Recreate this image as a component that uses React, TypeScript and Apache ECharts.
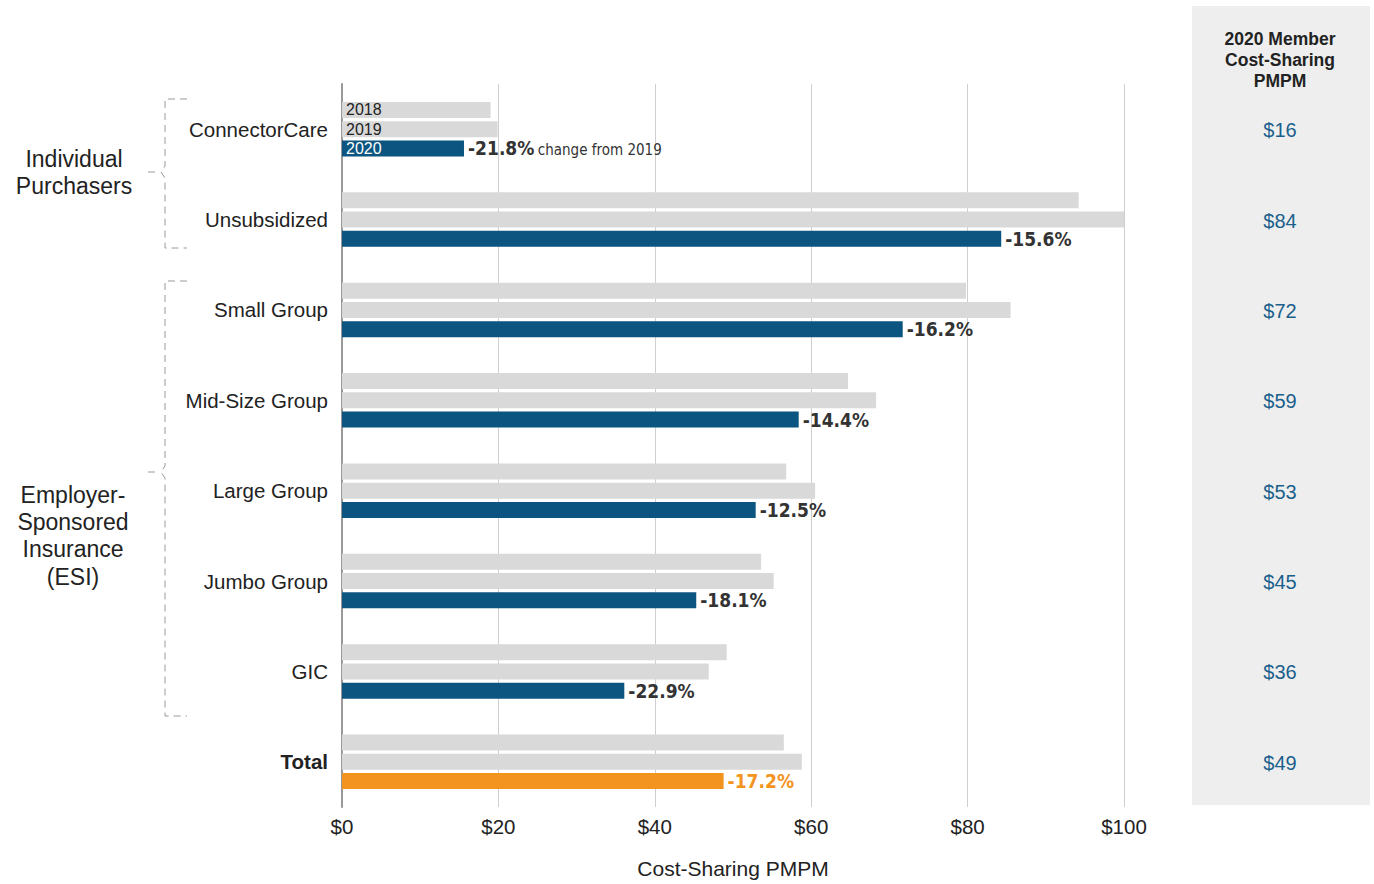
import React, { useEffect, useRef } from "react";
import * as echarts from "echarts";

const categories = ["ConnectorCare", "Unsubsidized", "Small Group", "Mid-Size Group", "Large Group", "Jumbo Group", "GIC", "Total"];
const v2018 = [19.0, 94.2, 79.8, 64.7, 56.8, 53.6, 49.2, 56.5];
const v2019 = [19.9, 100.0, 85.5, 68.3, 60.5, 55.2, 46.9, 58.8];
const v2020 = [15.6, 84.3, 71.7, 58.4, 52.9, 45.3, 36.1, 48.8];
const changePct = ["-21.8%", "-15.6%", "-16.2%", "-14.4%", "-12.5%", "-18.1%", "-22.9%", "-17.2%"];
const memberPMPM = ["$16", "$84", "$72", "$59", "$53", "$45", "$36", "$49"];
const xTicks = [0, 20, 40, 60, 80, 100];

const FONT = "'Liberation Sans', Arial, Helvetica, sans-serif";
const NARROW = "'Liberation Sans Narrow', 'DejaVu Sans Condensed', 'Liberation Sans', sans-serif";
const GREY = "#d9d9d9";
const BLUE = "#0b5580";
const ORANGE = "#f39320";
const TEXT = "#222222";

export default function App() {
  const ref = useRef<HTMLDivElement>(null);
  useEffect(() => {
    if (!ref.current) return;
    const chart = echarts.init(ref.current, null, { renderer: "svg" });
    const last = categories.length - 1;

    const yearLabel = (txt: string, color: string) => ({
      show: true,
      position: "insideLeft",
      distance: 4,
      formatter: txt,
      color,
      fontSize: 16,
      fontFamily: FONT,
    });

    const barCommon = { type: "bar", barWidth: 16, barGap: "20%" };

    const option: any = {
      animation: false,
      grid: { left: 342, width: 782, top: 84, height: 725, containLabel: false },
      xAxis: {
        type: "value",
        min: xTicks[0],
        max: xTicks[xTicks.length - 1],
        interval: 20,
        axisLine: { show: false },
        axisTick: { show: false },
        splitLine: { show: true, lineStyle: { color: "#cfcfcf", width: 1 } },
        axisLabel: {
          formatter: (v: number) => "$" + v,
          fontSize: 20.5,
          color: TEXT,
          fontFamily: FONT,
          margin: 9,
        },
        name: "Cost-Sharing PMPM",
        nameLocation: "middle",
        nameGap: 51,
        nameTextStyle: { fontSize: 21, color: TEXT, fontFamily: FONT },
      },
      yAxis: {
        type: "category",
        inverse: true,
        data: categories,
        axisLine: { show: true, lineStyle: { color: "#999999", width: 2 } },
        axisTick: { show: false },
        axisLabel: {
          fontSize: 20.5,
          color: TEXT,
          fontFamily: FONT,
          margin: 14,
          formatter: (v: string) => (v === "Total" ? "{b|" + v + "}" : v),
          rich: { b: { fontWeight: "bold", fontSize: 20.5, color: TEXT, fontFamily: FONT } },
        },
      },
      series: [
        {
          ...barCommon,
          name: "2018",
          itemStyle: { color: GREY },
          data: v2018.map((v, i) => (i === 0 ? { value: v, label: yearLabel("2018", TEXT) } : v)),
        },
        {
          ...barCommon,
          name: "2019",
          itemStyle: { color: GREY },
          data: v2019.map((v, i) => (i === 0 ? { value: v, label: yearLabel("2019", TEXT) } : v)),
        },
        {
          ...barCommon,
          name: "2020",
          stack: "y2020",
          itemStyle: { color: BLUE },
          data: v2020.map((v, i) => {
            if (i === 0) return { value: v, label: yearLabel("2020", "#ffffff") };
            if (i === last) return { value: v, itemStyle: { color: ORANGE } };
            return v;
          }),
        },
        {
          ...barCommon,
          name: "change",
          stack: "y2020",
          itemStyle: { color: "rgba(0,0,0,0)" },
          label: {
            show: true,
            position: "right",
            distance: 4,
            fontFamily: NARROW,
            formatter: (p: any) => {
              const i = p.dataIndex;
              if (i === 0) return "{b|" + changePct[i] + "} {n|change from 2019}";
              if (i === last) return "{o|" + changePct[i] + "}";
              return "{b|" + changePct[i] + "}";
            },
            rich: {
              b: { fontSize: 19, fontWeight: "bold", color: "#333333", fontFamily: NARROW },
              o: { fontSize: 19, fontWeight: "bold", color: ORANGE, fontFamily: NARROW },
              n: { fontSize: 15, color: "#333333", fontFamily: NARROW, padding: [3, 0, 0, 0] },
            },
          },
          data: v2020.map(() => 0),
        },
        {
          name: "member",
          type: "custom",
          data: memberPMPM.map((_, i) => [0, i]),
          renderItem: (params: any, api: any) => {
            const i = params.dataIndex;
            const pt = api.coord([0, i]);
            return {
              type: "text",
              style: {
                text: memberPMPM[i],
                x: 1280,
                y: pt[1] + 1,
                fill: "#1b5f8c",
                fontSize: 20,
                fontFamily: FONT,
                align: "center",
                verticalAlign: "middle",
              },
            };
          },
        },
      ],
      graphic: [
        { type: "rect", z: -10, shape: { x: 1192, y: 6, width: 178, height: 799 }, style: { fill: "#eeeeee" } },
        {
          type: "text",
          x: 1280,
          y: 28,
          style: {
            text: "2020 Member\nCost-Sharing\nPMPM",
            fill: TEXT,
            font: "bold 17.5px " + FONT,
            lineHeight: 21,
            align: "center",
            verticalAlign: "top",
          },
        },
        {
          type: "text",
          x: 74,
          y: 145,
          style: {
            text: "Individual\nPurchasers",
            fill: TEXT,
            font: "23px " + FONT,
            lineHeight: 27,
            align: "center",
            verticalAlign: "top",
          },
        },
        {
          type: "text",
          x: 73,
          y: 481,
          style: {
            text: "Employer-\nSponsored\nInsurance\n(ESI)",
            fill: TEXT,
            font: "23px " + FONT,
            lineHeight: 27.3,
            align: "center",
            verticalAlign: "top",
          },
        },
        {
          type: "polyline",
          shape: { points: [[187, 99], [165, 99], [165, 166], [161, 172], [165, 178], [165, 248], [187, 248]] },
          style: { stroke: "#9a9a9a", lineWidth: 1, lineDash: [7, 5], fill: null },
        },
        { type: "line", shape: { x1: 148, y1: 172, x2: 155, y2: 172 }, style: { stroke: "#9a9a9a", lineWidth: 1 } },
        {
          type: "polyline",
          shape: { points: [[187, 281], [165, 281], [165, 466], [161, 472], [165, 478], [165, 716], [187, 716]] },
          style: { stroke: "#9a9a9a", lineWidth: 1, lineDash: [7, 5], fill: null },
        },
        { type: "line", shape: { x1: 148, y1: 472, x2: 155, y2: 472 }, style: { stroke: "#9a9a9a", lineWidth: 1 } },
      ],
    };
    chart.setOption(option);
    return () => chart.dispose();
  }, []);
  return (
    <div
      ref={ref}
      style={{ position: "fixed", left: 0, top: 0, width: 1374, height: 884, background: "#ffffff" }}
    />
  );
}
